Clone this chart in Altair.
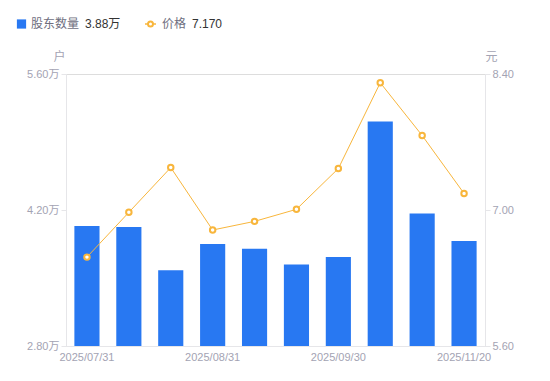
import altair as alt
import pandas as pd

dates = ["2025/07/31", "2025/08/10", "2025/08/20", "2025/08/31", "2025/09/10",
         "2025/09/19", "2025/09/30", "2025/10/31", "2025/11/10", "2025/11/20"]
holders = [4.035, 4.025, 3.58, 3.85, 3.80, 3.64, 3.715, 5.11, 4.165, 3.88]  # 万户
price = [6.515, 6.976, 7.437, 6.794, 6.883, 7.007, 7.427, 8.31, 7.767, 7.17]  # 元
shown_dates = [dates[0], dates[3], dates[6], dates[9]]
left_ticks = [2.8, 4.2, 5.6]
right_ticks = [5.6, 7.0, 8.4]

df = pd.DataFrame({"date": dates, "holders": holders, "price": price})
one = pd.DataFrame({"k": [0]})

BLUE = "#2878F2"
ORANGE = "#F8B63C"
GRAY = "#A3A3B3"
AX = "#E6E6E9"
FONT = "Liberation Sans, Noto Sans CJK SC, sans-serif"

xenc = alt.X("date:N", sort=None, title=None,
             scale=alt.Scale(paddingInner=0.4, paddingOuter=0.2),
             axis=alt.Axis(values=shown_dates, labelAngle=0, ticks=False,
                           domainColor=AX, labelColor=GRAY, labelFontSize=11,
                           labelPadding=5, labelFont=FONT))

bars = alt.Chart(df).mark_bar(color=BLUE, clip=True).encode(
    x=xenc,
    y=alt.Y("holders:Q", scale=alt.Scale(domain=[2.8, 5.6], nice=False, zero=False),
            axis=alt.Axis(orient="left", values=left_ticks, grid=False,
                          labelExpr="format(datum.value, '.2f') + '万'",
                          domainColor=AX, tickColor=AX, tickSize=5,
                          labelColor=GRAY, labelFontSize=11, labelFont=FONT,
                          title="户", titleAngle=0, titleX=-7, titleY=-11,
                          titleAlign="center", titleBaseline="bottom",
                          titleColor=GRAY, titleFontSize=12, titleFontWeight="normal",
                          titleFont=FONT)),
)

line = alt.Chart(df).mark_line(
    color=ORANGE, strokeWidth=1,
    point=alt.OverlayMarkDef(filled=False, fill="white", stroke=ORANGE,
                             strokeWidth=2, size=30, opacity=1)
).encode(
    x=xenc,
    y=alt.Y("price:Q", scale=alt.Scale(domain=[5.6, 8.4], nice=False, zero=False),
            axis=alt.Axis(orient="right", values=right_ticks, grid=False,
                          format=".2f",
                          domainColor=AX, tickColor=AX, tickSize=5,
                          labelColor=GRAY, labelFontSize=11, labelFont=FONT,
                          title="元", titleAngle=0, titleX=6, titleY=-11,
                          titleAlign="center", titleBaseline="bottom",
                          titleColor=GRAY, titleFontSize=12, titleFontWeight="normal",
                          titleFont=FONT)),
)

main = alt.layer(bars, line).resolve_scale(y="independent")

# legend (top)
ly = -50
leg_sq = alt.Chart(one).mark_square(color=BLUE, size=85, opacity=1).encode(
    x=alt.value(-44.5), y=alt.value(ly))
leg_t1 = alt.Chart(one).mark_text(align="left", baseline="middle", fontSize=12,
                                  color="#6E6E7E", font=FONT).encode(
    x=alt.value(-35), y=alt.value(ly), text=alt.value("股东数量"))
leg_v1 = alt.Chart(one).mark_text(align="left", baseline="middle", fontSize=12,
                                  color="#333333", font=FONT).encode(
    x=alt.value(19), y=alt.value(ly), text=alt.value(f"{holders[-1]:.2f}万"))
leg_rule = alt.Chart(one).mark_rule(color=ORANGE, strokeWidth=1.5).encode(
    x=alt.value(79), x2=alt.value(90), y=alt.value(ly))
leg_pt = alt.Chart(one).mark_point(filled=False, fill="white", stroke=ORANGE,
                                   strokeWidth=2, size=25, opacity=1).encode(
    x=alt.value(84.5), y=alt.value(ly))
leg_t2 = alt.Chart(one).mark_text(align="left", baseline="middle", fontSize=12,
                                  color="#6E6E7E", font=FONT).encode(
    x=alt.value(96), y=alt.value(ly), text=alt.value("价格"))
leg_v2 = alt.Chart(one).mark_text(align="left", baseline="middle", fontSize=12,
                                  color="#333333", font=FONT).encode(
    x=alt.value(126), y=alt.value(ly), text=alt.value(f"{price[-1]:.3f}"))

chart = alt.layer(main, leg_sq, leg_t1, leg_v1, leg_rule, leg_pt, leg_t2, leg_v2).properties(
    width=419, height=272,
    padding={"left": 58, "top": 66, "right": 57, "bottom": 27},
    autosize=alt.AutoSizeParams(type="none"),
).configure_view(stroke=None).configure(font=FONT)

chart.save("out.html", embed_options={"renderer": "svg", "actions": False})
